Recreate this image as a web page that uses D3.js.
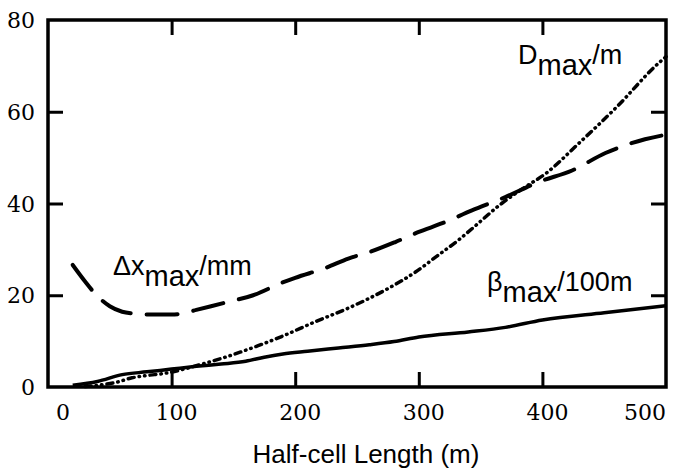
<!DOCTYPE html>
<html>
<head>
<meta charset="utf-8">
<script src="https://cdn.jsdelivr.net/npm/d3@7/dist/d3.min.js"></script>
<style>
  body { margin: 0; background: #fff; }
  svg { display: block; }
  .xnum { font-family: 'DejaVu Serif'; }
  .ynum { font-family: 'DejaVu Serif'; }
  .lbl { font-family: 'Liberation Sans', Arial, sans-serif; fill: #000; }
</style>
</head>
<body>
<div id="chart"></div>
<script>
// values

var xTicks = [0, 100, 200, 300, 400, 500];
var yTicks = [0, 20, 40, 60, 80];

// beta_max / 100 m  (solid)
var betaX = [20, 40, 60, 80, 100, 120, 140, 160, 175, 190, 210, 235, 260, 280, 300, 340, 370, 400, 450, 500];
var betaY = [0.4, 1.2, 2.7, 3.3, 3.9, 4.5, 5.0, 5.6, 6.5, 7.2, 7.8, 8.5, 9.2, 9.9, 10.9, 12.0, 13.0, 14.6, 16.2, 17.7];

// delta x_max / mm  (dashed)
var dxX = [20, 30, 40, 50, 60, 70, 80, 100, 110, 120, 145, 166, 189, 200, 225, 243, 260, 281, 300, 319, 343, 370, 397, 424, 451, 483, 500];
var dxY = [26.6, 23, 19.8, 17.6, 16.4, 16, 15.8, 15.8, 16.1, 16.8, 18.5, 20, 22.7, 23.8, 26, 28, 29.4, 31.6, 33.8, 35.7, 38.5, 41.4, 44.7, 47.2, 51, 54, 55];

// D_max / m  (dotted)
var dX = [30, 41, 55, 68, 80, 95, 110, 122, 135, 149, 170, 189, 216, 243, 276, 297, 316, 332, 343, 367, 385, 403, 429, 460, 494, 500];
var dY = [0.1, 0.4, 1.0, 2.0, 2.5, 3.0, 3.9, 4.8, 5.8, 7.0, 9.0, 11.0, 14.2, 17.2, 21.6, 25, 28.8, 32, 34.5, 40, 43.4, 46.6, 53, 61, 70.6, 72];

var width = 679;
var height = 471;

var margin = {
    top: 20,
    bottom: 84,
    left: 48,
    right: 13
}

var svg = d3.select('#chart')
    .append('svg')
    .attr('width', width)
    .attr('height', height);

var x_scale = d3.scaleLinear()
    .domain([0, 500])
    .range([margin.left, width - margin.right]);

var y_scale = d3.scaleLinear()
    .domain([0, 80])
    .range([height - margin.bottom, margin.top]);

var inner = [100, 200, 300, 400];
var innerY = [20, 40, 60];
var tick = 15;

// ticks pointing inwards on all four sides
svg.append('g')
    .attr('transform', 'translate(0,' + y_scale(0) + ')')
    .call(d3.axisBottom(x_scale).tickValues(inner).tickSize(-tick).tickFormat(''));
svg.append('g')
    .attr('transform', 'translate(0,' + y_scale(80) + ')')
    .call(d3.axisTop(x_scale).tickValues(inner).tickSize(-tick).tickFormat(''));
svg.append('g')
    .attr('transform', 'translate(' + x_scale(0) + ',0)')
    .call(d3.axisLeft(y_scale).tickValues(innerY).tickSize(-tick).tickFormat(''));
svg.append('g')
    .attr('transform', 'translate(' + x_scale(500) + ',0)')
    .call(d3.axisRight(y_scale).tickValues(innerY).tickSize(-tick).tickFormat(''));

svg.selectAll('.domain').remove();
svg.selectAll('.tick line')
    .attr('stroke', '#000')
    .attr('stroke-width', 3);

// frame
svg.append('rect')
    .attr('x', x_scale(0))
    .attr('y', y_scale(80))
    .attr('width', x_scale(500) - x_scale(0))
    .attr('height', y_scale(0) - y_scale(80))
    .attr('fill', 'none')
    .attr('stroke', '#000')
    .attr('stroke-width', 3.5);

// tick labels
svg.selectAll('.xnum')
    .data(xTicks)
    .enter()
    .append('text')
    .attr('class', 'xnum')
    .style('font-size', '22px')
    .attr('x', function(d, i) {
        if (i == 0) return x_scale(d) + 8;
        if (i == xTicks.length - 1) return x_scale(d);
        return x_scale(d) + 5;
    })
    .attr('y', y_scale(0) + 33)
    .attr('text-anchor', function(d, i) {
        if (i == 0) return 'start';
        if (i == xTicks.length - 1) return 'end';
        return 'middle';
    })
    .text(function(d) { return d; });

svg.selectAll('.ynum')
    .data(yTicks)
    .enter()
    .append('text')
    .attr('class', 'ynum')
    .style('font-size', '22px')
    .attr('x', 35)
    .attr('y', function(d) { return y_scale(d) + 8; })
    .attr('text-anchor', 'end')
    .text(function(d) { return d; });

// axis title
svg.append('text')
    .attr('class', 'lbl')
    .style('font-size', '26px')
    .attr('x', 366)
    .attr('y', 463)
    .attr('text-anchor', 'middle')
    .text('Half-cell Length (m)');

// curves
var line = d3.line()
    .x(function(d) { return x_scale(d[0]); })
    .y(function(d) { return y_scale(d[1]); })
    .curve(d3.curveMonotoneX);

function pairs(xs, ys) {
    return xs.map(function(v, i) { return [v, ys[i]]; });
}

svg.append('path')
    .datum(pairs(betaX, betaY))
    .attr('d', line)
    .attr('fill', 'none')
    .attr('stroke', '#000')
    .attr('stroke-width', 3.5);

svg.append('path')
    .datum(pairs(dxX, dxY))
    .attr('d', line)
    .attr('fill', 'none')
    .attr('stroke', '#000')
    .attr('stroke-width', 4)
    .attr('stroke-linecap', 'round')
    .attr('stroke-dasharray', '31,16');

svg.append('path')
    .datum(pairs(dX, dY))
    .attr('d', line)
    .attr('fill', 'none')
    .attr('stroke', '#000')
    .attr('stroke-width', 3.5)
    .attr('stroke-linecap', 'round')
    .attr('stroke-dasharray', '6,5,0.5,5,0.5,5');

// curve labels: main text plus a lowered "max"
function label(x, y, head, tail) {
    var t = svg.append('text')
        .attr('class', 'lbl')
        .style('font-size', '27px')
        .attr('x', x)
        .attr('y', y);
    t.append('tspan').text(head);
    t.append('tspan').attr('dy', 11).style('font-size', '29px').text('max');
    t.append('tspan').attr('dy', -11).text(tail);
}

label(518, 64, 'D', '/m');
label(113, 275, '\u0394x', '/mm');
label(487, 291, '\u03b2', '/100m');
</script>
</body>
</html>
